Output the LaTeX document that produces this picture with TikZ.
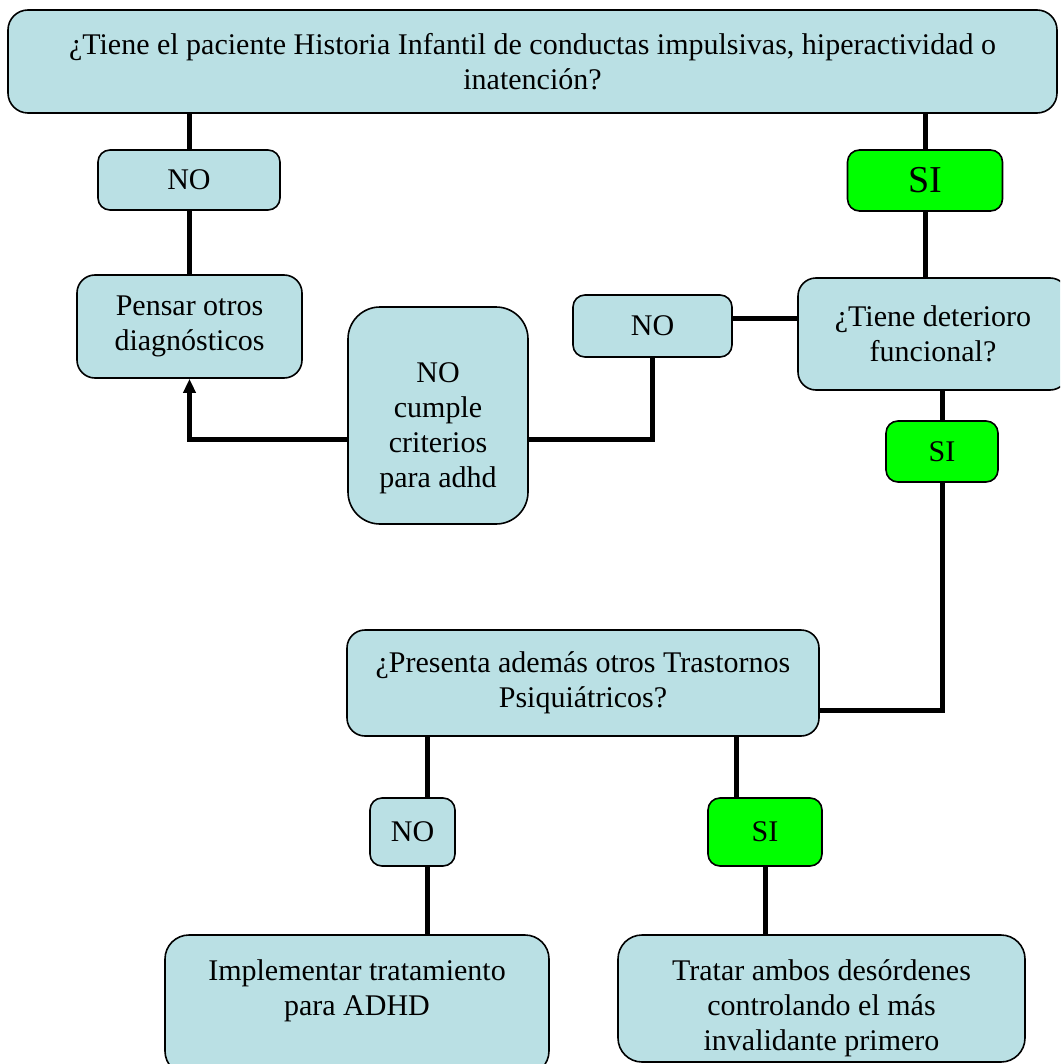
\documentclass[tikz,border=0pt]{standalone}
\usepackage{fontspec}
\setmainfont{Liberation Serif}
\usetikzlibrary{arrows.meta,backgrounds}
\definecolor{cajaazul}{RGB}{186,224,228}
\definecolor{cajaverde}{RGB}{0,255,0}
\tikzset{
	caja/.style={draw, line width=0.8pt, fill=cajaazul, rounded corners=6pt, align=center, inner sep=0pt, font=\fontsize{15}{17.5}\selectfont},
	cajasi/.style={caja, fill=cajaverde},
	linea/.style={line width=2.5pt},
}

\begin{document}
\begin{tikzpicture}[x=0.5pt, y=-0.5pt]
			%%%%% START %%%%%
			\useasboundingbox (0,0) rectangle (1060,1064);
			\clip (0,0) rectangle (1060,1064);
			
			\node[caja, rounded corners=10pt, minimum width=524.5pt, minimum height=51.5pt] (pregunta) at (532.5,61.5) {¿Tiene el paciente Historia Infantil de conductas impulsivas, hiperactividad o\\inatención?};
			
			\node[caja, minimum width=91pt, minimum height=30pt] (noA) at (189,180) {NO};
			\node[cajasi, minimum width=77.5pt, minimum height=30.5pt, font=\fontsize{19}{21}\selectfont] (siA) at (925,180.5) {SI};
			
			\node[caja, rounded corners=9pt, minimum width=112.5pt, minimum height=51.5pt] (pensar) at (189.5,326.5) {Pensar otros\\diagnósticos};
			\node[caja, minimum width=79.5pt, minimum height=31pt] (noB) at (652.5,326) {NO};
			\node[caja, rounded corners=9pt, minimum width=135pt, minimum height=56pt] (deterioro) at (933,334) {¿Tiene deterioro\\funcional?};
			\node[caja, rounded corners=16pt, minimum width=90pt, minimum height=108.5pt] (criterios) at (438,415.5) {\rule{0pt}{23pt}NO\\cumple\\criterios\\para adhd};
			\node[cajasi, minimum width=56pt, minimum height=30.5pt] (siB) at (942,451.5) {SI};
			
			\node[caja, rounded corners=9pt, minimum width=236pt, minimum height=53pt] (presenta) at (583,683) {¿Presenta además otros Trastornos\\Psiquiátricos?};
			\node[caja, minimum width=42.5pt, minimum height=34pt] (noC) at (412.5,832) {NO};
			\node[cajasi, minimum width=57pt, minimum height=34pt] (siC) at (765,832) {SI};
			
			\node[caja, rounded corners=12pt, minimum width=192pt, minimum height=70pt] (implementar) at (357,1005) {Implementar tratamiento\\para ADHD\\~};
			\node[caja, rounded corners=12pt, minimum width=203.5pt, minimum height=63.5pt] (tratar) at (821.5,998.5) {\rule{0pt}{20pt}Tratar ambos desórdenes\\controlando el más\\invalidante primero};
			
			\begin{pgfonlayer}{background}
			\draw[linea] (noA.north) -- (noA.north |- pregunta.south);
			\draw[linea] (noA.south) -- (noA.south |- pensar.north);
			\draw[linea] (siA.north) -- (siA.north |- pregunta.south);
			\draw[linea] (siA.south) -- (siA.south |- deterioro.north);
			
			\draw[linea] ([yshift=4pt]noB.east) -- ([yshift=4pt]noB.east -| deterioro.west);
			\draw[linea] ([yshift=-12pt]criterios.east) -| (noB.south);
			\draw[linea, -{Triangle[width=6pt,length=7pt]}] ([yshift=-12pt]criterios.west) -| (pensar.south);
			
			\draw[linea] (siB.north) -- (siB.north |- deterioro.south);
			\draw[linea] (siB.south) |- ([yshift=-13.5pt]presenta.east);
			
			\draw[linea] ([xshift=7.5pt]noC.north) -- ([xshift=7.5pt]noC.north |- presenta.south);
			\draw[linea] ([xshift=7.5pt]noC.south) -- ([xshift=7.5pt]noC.south |- implementar.north);
			\draw[linea] ([xshift=-14.5pt]siC.north) -- ([xshift=-14.5pt]siC.north |- presenta.south);
			\draw[linea] (siC.south) -- (siC.south |- tratar.north);
			\end{pgfonlayer}
			
			%%%%% END %%%%%
\end{tikzpicture}
\end{document}
